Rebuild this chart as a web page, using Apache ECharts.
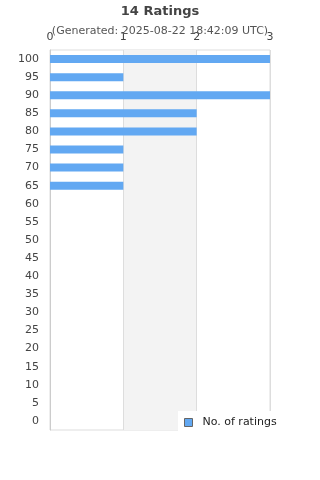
<!DOCTYPE html>
<html>
<head>
<meta charset="utf-8">
<script src="https://cdn.jsdelivr.net/npm/echarts@6/dist/echarts.min.js"></script>
<style>
html, body { margin: 0; padding: 0; background: #fff; }
#chart { width: 320px; height: 480px; }
</style>
</head>
<body>
<div id="chart"></div>
<script>
// ratings buckets, top to bottom
var categories = ['100', '95', '90', '85', '80', '75', '70', '65', '60', '55', '50', '45', '40', '35', '30', '25', '20', '15', '10', '5', '0'];
var ratingCounts = [3, 1, 3, 2, 2, 1, 1, 1, 0, 0, 0, 0, 0, 0, 0, 0, 0, 0, 0, 0, 0];
var titleText = '14 Ratings';
var subText = '(Generated: 2025-08-22 18:42:09 UTC)';
var seriesName = 'No. of ratings';

var chart = echarts.init(document.getElementById('chart'));
var option = {
    animation: false,
    textStyle: { fontFamily: 'DejaVu Sans' },
    title: {
        text: titleText,
        subtext: subText,
        left: 'center',
        top: 0,
        itemGap: 8,
        textStyle: { fontSize: 13, fontWeight: 'bold', color: '#444', fontFamily: 'DejaVu Sans' },
        subtextStyle: { fontSize: 11, color: '#555', fontFamily: 'DejaVu Sans' }
    },
    grid: {
        left: 50,
        right: 50,
        top: 50,
        bottom: 50,
        show: true,
        borderColor: '#ddd',
        borderWidth: 1
    },
    xAxis: {
        type: 'value',
        position: 'top',
        min: 0,
        max: 3,
        interval: 1,
        axisLine: { show: false },
        axisTick: { show: false },
        axisLabel: { color: '#444', fontSize: 11, margin: 7 },
        splitLine: { show: true, lineStyle: { color: '#ddd' } },
        splitArea: { show: true, areaStyle: { color: ['rgba(255,255,255,0)', '#f3f3f3'] } }
    },
    yAxis: {
        type: 'category',
        data: categories,
        inverse: true,
        axisLine: { show: true, lineStyle: { color: '#ccc' } },
        axisTick: { show: false },
        axisLabel: { color: '#444', fontSize: 11, margin: 11 }
    },
    legend: {
        data: [seriesName],
        left: 178,
        top: 411,
        backgroundColor: '#fff',
        padding: [6, 40, 6, 6],
        itemWidth: 18,
        itemHeight: 8,
        icon: 'path://M0,0 L1,0 L1,1 L0,1 Z',
        itemStyle: { borderColor: '#666', borderWidth: 1 },
        textStyle: { color: '#222', fontSize: 11 }
    },
    series: [{
        name: seriesName,
        type: 'bar',
        data: ratingCounts,
        barWidth: 8,
        itemStyle: { color: '#62a8f2' }
    }]
};
chart.setOption(option);
</script>
</body>
</html>
